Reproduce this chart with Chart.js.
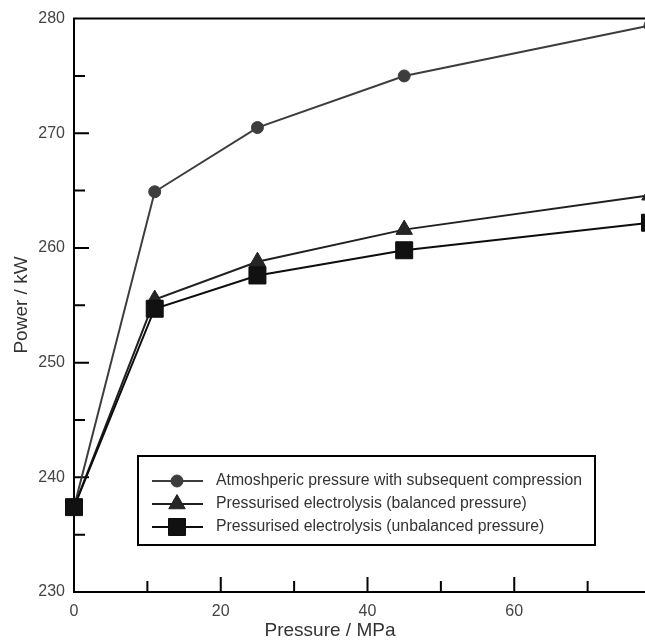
<!DOCTYPE html>
<html>
<head>
<meta charset="utf-8">
<script src="https://cdn.jsdelivr.net/npm/chart.js@4/dist/chart.umd.min.js"></script>
<style>
  html, body { margin: 0; padding: 0; background: #fff; overflow: hidden; }
  #wrap { width: 680px; height: 642px; }
</style>
</head>
<body>
<div id="wrap"><canvas id="powerChart" width="680" height="642"></canvas></div>
<script>
const pressure = [0, 11, 25, 45, 78.5];
const atmospheric = [237.4, 264.9, 270.5, 275.0, 279.4];
const balanced = [237.4, 255.5, 258.8, 261.6, 264.6];
const unbalanced = [237.4, 254.7, 257.6, 259.8, 262.2];

const seriesNames = [
  "Atmoshperic pressure with subsequent compression",
  "Pressurised electrolysis (balanced pressure)",
  "Pressurised electrolysis (unbalanced pressure)",
];

const xTickMarks = [10, 20, 30, 40, 50, 60, 70];
const yTickMarks = [235, 240, 245, 250, 255, 260, 265, 270, 275];

const font = "'Liberation Sans', Arial, sans-serif";

function toPoints(values) {
  return values.map((v, i) => ({ x: pressure[i], y: v }));
}

// frame and inward tick marks, like the original plot
const framePlugin = {
  id: "frame",
  beforeDatasetsDraw(chart) {
    const { ctx, chartArea: a, scales } = chart;
    ctx.save();
    ctx.strokeStyle = "#000";
    ctx.lineWidth = 2;
    ctx.lineCap = "butt";
    ctx.beginPath();
    ctx.moveTo(a.right, a.top);
    ctx.lineTo(a.left, a.top);
    ctx.lineTo(a.left, a.bottom);
    ctx.lineTo(a.right, a.bottom);
    ctx.lineTo(a.right, a.top);
    xTickMarks.forEach((v) => {
      const px = scales.x.getPixelForValue(v);
      const len = v % 20 === 0 ? 15 : 11;
      ctx.moveTo(px, a.bottom);
      ctx.lineTo(px, a.bottom - len);
    });
    yTickMarks.forEach((v) => {
      const py = scales.y.getPixelForValue(v);
      const len = v % 10 === 0 ? 15 : 11;
      ctx.moveTo(a.left, py);
      ctx.lineTo(a.left + len, py);
    });
    ctx.stroke();

    // axis titles
    ctx.fillStyle = "#333";
    ctx.font = `19px ${font}`;
    ctx.textAlign = "center";
    ctx.textBaseline = "middle";
    ctx.fillText("Pressure / MPa", 330, 631);
    ctx.translate(22, 305);
    ctx.rotate(-Math.PI / 2);
    ctx.fillText("Power / kW", 0, 0);
    ctx.restore();
  },
  afterDraw(chart) {
    const { ctx } = chart;
    const box = { left: 138, top: 456, width: 457, height: 89 };
    const rows = [481, 504, 527];
    ctx.save();
    ctx.fillStyle = "#fff";
    ctx.fillRect(box.left, box.top, box.width, box.height);
    ctx.strokeStyle = "#000";
    ctx.lineWidth = 2;
    ctx.strokeRect(box.left, box.top, box.width, box.height);
    chart.data.datasets.forEach((ds, i) => {
      const y = rows[i];
      ctx.strokeStyle = ds.borderColor;
      ctx.lineWidth = 2;
      ctx.beginPath();
      ctx.moveTo(152, y);
      ctx.lineTo(203, y);
      ctx.stroke();
      ctx.fillStyle = ds.pointBackgroundColor;
      ctx.strokeStyle = ds.pointBorderColor;
      ctx.lineWidth = 1;
      Chart.helpers.drawPoint(ctx, {
        pointStyle: ds.pointStyle,
        radius: ds.pointRadius,
        rotation: 0,
        borderWidth: 1,
      }, 177, y);
      ctx.fillStyle = "#333";
      ctx.font = `15.8px ${font}`;
      ctx.textAlign = "left";
      ctx.textBaseline = "middle";
      ctx.fillText(ds.label, 216, y);
    });
    ctx.restore();
  },
};

const chartCanvas = document.querySelector("#powerChart");
new Chart(chartCanvas, {
  type: "line",
  data: {
    datasets: [
      {
        label: seriesNames[0],
        data: toPoints(atmospheric),
        borderColor: "#3d3d3d",
        borderWidth: 2,
        pointStyle: "circle",
        pointRadius: 6,
        pointBackgroundColor: "#3d3d3d",
        pointBorderColor: "#3d3d3d",
        pointBorderWidth: 1,
        tension: 0,
        clip: false,
        order: 2,
      },
      {
        label: seriesNames[1],
        data: toPoints(balanced),
        borderColor: "#202020",
        borderWidth: 2,
        pointStyle: "triangle",
        pointRadius: 9.5,
        pointBackgroundColor: "#262626",
        pointBorderColor: "#202020",
        pointBorderWidth: 1,
        tension: 0,
        clip: false,
        order: 1,
      },
      {
        label: seriesNames[2],
        data: toPoints(unbalanced),
        borderColor: "#0d0d0d",
        borderWidth: 2,
        pointStyle: "rect",
        pointRadius: 12,
        pointBackgroundColor: "#111",
        pointBorderColor: "#0d0d0d",
        pointBorderWidth: 1,
        tension: 0,
        clip: false,
        order: 0,
      },
    ],
  },
  options: {
    responsive: false,
    animation: false,
    layout: { padding: { top: 16, right: 19, left: 0, bottom: 0 } },
    plugins: { legend: { display: false }, tooltip: { enabled: false } },
    scales: {
      x: {
        type: "linear",
        min: 0,
        max: 80,
        grid: { display: false, drawTicks: false },
        border: { display: false },
        ticks: { stepSize: 20, padding: 10, color: "#444", font: { family: font, size: 16 }, maxRotation: 0 },
        afterFit(scale) { scale.height = 50; },
      },
      y: {
        min: 230,
        max: 280,
        grid: { display: false, drawTicks: false },
        border: { display: false },
        ticks: { stepSize: 10, padding: 9, color: "#444", font: { family: font, size: 16 } },
        afterFit(scale) { scale.width = 74; },
      },
    },
  },
  plugins: [framePlugin],
});
</script>
</body>
</html>
